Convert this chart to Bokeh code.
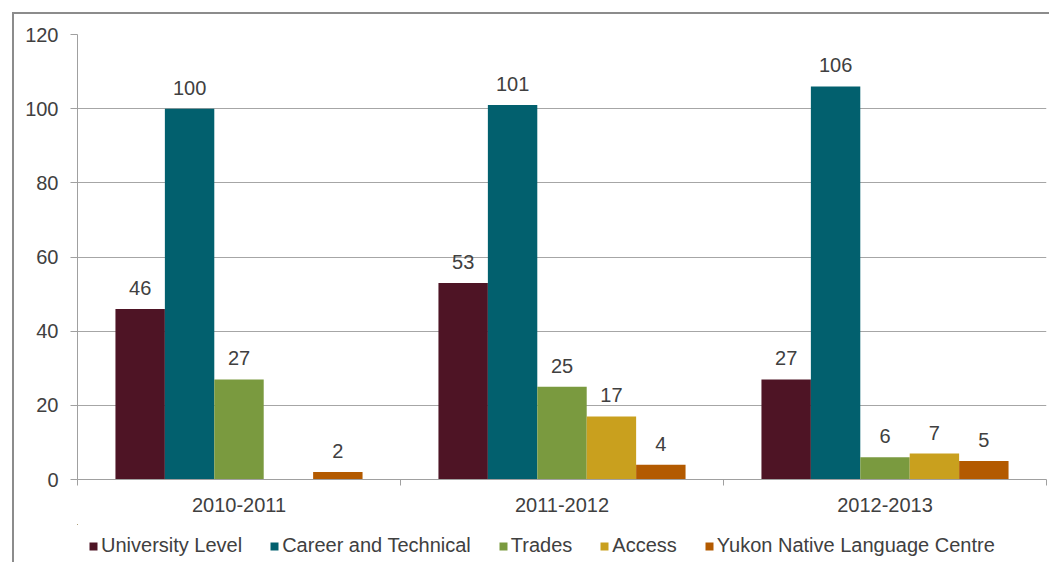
import math
import numpy as np
from bokeh.plotting import figure
from bokeh.layouts import column
from bokeh.models import ColumnDataSource, FixedTicker, Legend, LegendItem, Range1d
from bokeh.core.properties import value
from bokeh.embed import file_html
from bokeh.resources import INLINE

categories = ["2010-2011", "2011-2012", "2012-2013"]
series = ["University Level", "Career and Technical", "Trades", "Access",
          "Yukon Native Language Centre"]
university_level = [46, 53, 27]
career_technical = [100, 101, 106]
trades = [27, 25, 6]
access = [float("nan"), 17, 7]
yukon_native = [2, 4, 5]
colors = ["#4E1425", "#02606E", "#7A9A3F", "#C9A01E", "#B35A00"]

all_values = [university_level, career_technical, trades, access, yukon_native]

FONT = "Liberation Sans"
TXT = "#404040"
FS = "20px"

p = figure(width=1035, height=510, x_range=Range1d(0, 3), y_range=Range1d(0, 120),
           output_backend="svg", toolbar_location=None,
           min_border_left=63, min_border_right=3, min_border_top=20, min_border_bottom=45)
p.outline_line_color = None
p.background_fill_color = "white"
p.border_fill_color = "white"

# legend strip (separate figure below the chart)
p2 = figure(width=1035, height=38, x_range=Range1d(100, 101), y_range=Range1d(-200, -100),
            output_backend="svg", toolbar_location=None,
            x_axis_location=None, y_axis_location=None,
            min_border_left=0, min_border_right=0, min_border_top=0, min_border_bottom=0)
p2.grid.visible = False
p2.outline_line_color = None
p2.background_fill_color = "white"
p2.border_fill_color = "white"

centers = np.arange(len(categories)) + 0.5
bar_w = 0.153
items = []
for i, (name, vals, col) in enumerate(zip(series, all_values, colors)):
    xs = centers + (i - 2) * bar_w
    src = ColumnDataSource(dict(x=xs, top=vals))
    p.vbar(x="x", top="top", width=bar_w, bottom=0, source=src,
           fill_color=col, line_color=None)
    # proxy renderer for the legend (lies far outside the strip's visible range)
    r = p2.vbar(x="x", top="top", width=bar_w, bottom=0, source=src,
                fill_color=col, line_color=None)
    items.append(LegendItem(label=name, renderers=[r]))
    lx, ly, lt = [], [], []
    for x, v in zip(xs, vals):
        if v is None or (isinstance(v, float) and math.isnan(v)):
            continue
        lx.append(x); ly.append(v); lt.append(str(int(v)))
    p.text(x=lx, y=ly, text=lt, text_align="center", text_baseline="alphabetic",
           y_offset=-21, text_font=value(FONT), text_font_size=FS, text_color=TXT)

# y axis
p.yaxis.ticker = FixedTicker(ticks=[0, 20, 40, 60, 80, 100, 120])
p.yaxis.axis_line_color = "#A0A0A0"
p.yaxis.major_tick_line_color = "#A0A0A0"
p.yaxis.major_tick_out = 7
p.yaxis.major_tick_in = 0
p.yaxis.minor_tick_line_color = None
p.yaxis.major_label_text_font = FONT
p.yaxis.major_label_text_font_size = FS
p.yaxis.major_label_text_color = TXT
p.yaxis.major_label_standoff = 12

# x axis
p.xaxis.ticker = FixedTicker(ticks=list(centers), minor_ticks=list(range(len(categories) + 1)))
p.xaxis.major_label_overrides = {float(c): cat for c, cat in zip(centers, categories)}
p.xaxis.axis_line_color = "#A0A0A0"
p.xaxis.major_tick_line_color = None
p.xaxis.major_tick_out = 0
p.xaxis.major_tick_in = 0
p.xaxis.minor_tick_line_color = "#A0A0A0"
p.xaxis.minor_tick_out = 6
p.xaxis.minor_tick_in = 0
p.xaxis.major_label_text_font = FONT
p.xaxis.major_label_text_font_size = FS
p.xaxis.major_label_text_color = TXT
p.xaxis.major_label_standoff = 12

p.xgrid.grid_line_color = None
p.ygrid.grid_line_color = "#A6A6A6"
p.ygrid.grid_line_width = 1

legend = Legend(items=items, orientation="horizontal", location=(11, 5),
                glyph_width=10, glyph_height=10, label_standoff=3, spacing=27,
                padding=0, margin=0, border_line_color=None, background_fill_alpha=0,
                label_text_font=FONT, label_text_font_size=FS, label_text_color=TXT)
p2.add_layout(legend, "center")

layout = column(p, p2, spacing=0)
layout.styles = {"margin-left": "12px", "margin-top": "12px",
                 "border-left": "2px solid #8c8c8c", "border-top": "2px solid #8c8c8c"}

open("out.html", "w").write(file_html(layout, INLINE))
